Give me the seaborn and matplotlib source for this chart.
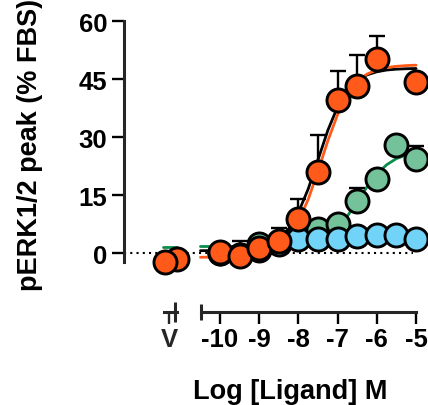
import numpy as np
import matplotlib
matplotlib.use("Agg")
import matplotlib.pyplot as plt
import seaborn as sns

# ---------------- data ----------------
log_conc = [-10, -9.5, -9, -8.5, -8, -7.5, -7, -6.5, -6, -5.5, -5]

orange_mean = [0.3, -0.6, 1.5, 3.3, 8.9, 20.9, 39.6, 43.3, 50.2, np.nan, 44.2]
orange_err = [1.0, 3.9, 1.0, 3.4, 5.1, 9.6, 7.6, 7.9, 6.0, np.nan, 1.0]

green_mean = [0.2, -0.4, 2.5, 3.0, 4.5, 6.3, 7.6, 13.6, 19.2, 28.0, 24.4]
green_err = [1.0, 1.0, 1.0, 1.0, 1.0, 1.5, 1.5, 3.2, 1.5, 1.5, 3.4]

blue_mean = [0.0, -0.5, 1.0, 2.4, 3.7, 3.7, 3.7, 4.4, 4.7, 4.7, 3.7]
blue_err = [0.8, 0.8, 0.8, 0.8, 0.8, 0.8, 0.8, 0.8, 0.8, 0.8, 0.8]

# vehicle (V) points
veh_x = [-11.3]
veh_orange_x = [-11.4]
veh_orange = [-2.3]
veh_orange2_x = [-11.1]
veh_orange2 = [-1.5]

# fitted curves, read at these log concentrations
curve_x = [-10.5, -10, -9.5, -9, -8.75, -8.5, -8.25, -8, -7.75, -7.5, -7.25,
           -7, -6.75, -6.5, -6.25, -6, -5.75, -5.5, -5.25, -5]
orange_fit = [-0.98, -0.93, -0.75, -0.11, 0.66, 2.03, 4.42, 8.3, 14.0, 21.3, 29.1,
              35.9, 41.0, 44.3, 46.3, 47.4, 48.0, 48.3, 48.5, 48.6]
black_fit = [0.72, 0.76, 0.94, 1.57, 2.36, 3.81, 6.38, 10.6, 16.7, 24.25, 31.8,
             37.9, 42.1, 44.7, 46.1, 46.9, 47.35, 47.57, 47.68, 47.74]
green_fit = [1.80, 1.80, 1.81, 1.84, 1.87, 1.94, 2.06, 2.28, 2.68, 3.42, 4.68,
             6.72, 9.67, 13.4, 17.2, 20.5, 22.9, 24.5, 25.4, 25.9]
# fit lines in the vehicle segment of the broken axis
veh_curve_x = [-11.45, -11.1]
veh_orange_fit = [-0.98, -0.98]
veh_black_fit = [0.72, 0.72]
veh_green_fit = [1.8, 1.8]

x_ticks = [-10, -9, -8, -7, -6, -5]
x_tick_labels = ["-10", "-9", "-8", "-7", "-6", "-5"]
y_ticks = [0, 15, 30, 45, 60]

# ---------------- style ----------------
sns.set_style("ticks")
plt.rcParams["font.family"] = ["Liberation Sans", "DejaVu Sans"]
plt.rcParams["font.weight"] = "bold"

ORANGE = "#FF5A1A"
GREEN_FILL = "#74C29A"
GREEN_LINE = "#0A8C4C"
BLUE = "#72D3F8"

FS = 18.5
W, H = 428, 406
fig = plt.figure(figsize=(W / 100, H / 100), dpi=100)
ax = fig.add_axes([124 / W, (H - 263) / H, 296 / W, (263 - 22) / H])
ax.set_xlim(-12.45, -4.9)
ax.set_ylim(-2.2, 60)

# zero reference line
ax.axhline(0, xmin=0, xmax=0.976, color="black", lw=1.5, ls=(0, (1, 2)), zorder=1)

# fitted curves
for xs, ys, col in [(curve_x, green_fit, GREEN_LINE), (veh_curve_x, veh_green_fit, GREEN_LINE),
                    (curve_x, black_fit, "black"), (veh_curve_x, veh_black_fit, "black"),
                    (curve_x, orange_fit, ORANGE), (veh_curve_x, veh_orange_fit, ORANGE)]:
    sns.lineplot(x=xs, y=ys, color=col, lw=2.0, sort=False, estimator=None,
                 ax=ax, zorder=2, clip_on=False)

MS = 275
EW = 2.1
err_kw = dict(fmt="none", ecolor="black", elinewidth=1.7, capsize=5.5, capthick=1.7, clip_on=False)

def series(x, mean, err, fill, z):
    if err is not None:
        lower = [0.0] * len(err)
        ax.errorbar(x, mean, yerr=[lower, err], zorder=z, **err_kw)
    sns.scatterplot(x=x, y=mean, s=MS, color=fill, edgecolor="black", linewidth=EW,
                    ax=ax, zorder=z + 0.5, clip_on=False, legend=False)

series(log_conc, green_mean, green_err, GREEN_FILL, 3)
series(log_conc, blue_mean, blue_err, BLUE, 4)
series(veh_orange2_x, veh_orange2, None, ORANGE, 5)
series(veh_orange_x, veh_orange, None, ORANGE, 5.2)
series(log_conc, orange_mean, orange_err, ORANGE, 6)

# ---------------- axes styling ----------------
for side in ["top", "right"]:
    ax.spines[side].set_visible(False)
ax.spines["left"].set_linewidth(2.2)
ax.spines["bottom"].set_linewidth(2.2)
ax.spines["bottom"].set_position(("outward", 36))
ax.spines["bottom"].set_bounds(-10.48, -5.0)

ax.set_yticks(y_ticks)
ax.set_yticklabels([str(v) for v in y_ticks])
ax.set_xticks(x_ticks)
ax.set_xticklabels(x_tick_labels)
ax.set_xticks([-10.48], minor=True)
ax.tick_params(axis="both", which="major", length=8.5, width=1.7, color="black",
               labelsize=FS, labelcolor="black")
ax.tick_params(axis="y", pad=3.5)
ax.tick_params(axis="x", pad=2)
ax.tick_params(axis="x", which="minor", direction="inout", length=12, width=2.2)
for lab in ax.get_xticklabels() + ax.get_yticklabels():
    lab.set_fontweight("bold")

ax.set_ylabel("pERK1/2 peak (% FBS)", fontsize=19.5, fontweight="bold", color="black")
ax.yaxis.set_label_coords(-0.274, 0.49)
ax.set_xlabel("Log [Ligand] M", fontsize=19.5, fontweight="bold", color="black")
ax.xaxis.set_label_coords(0.5625, -0.48)

# vehicle segment of the broken x axis
ax_v = fig.add_axes(ax.get_position(), label="vehicle")
ax_v.set_xlim(ax.get_xlim())
ax_v.set_ylim(ax.get_ylim())
ax_v.patch.set_visible(False)
for side in ["top", "right", "left"]:
    ax_v.spines[side].set_visible(False)
ax_v.spines["bottom"].set_linewidth(2.2)
ax_v.spines["bottom"].set_position(("outward", 36))
ax_v.spines["bottom"].set_bounds(-11.42, -11.09)
ax_v.set_yticks([])
ax_v.set_xticks(veh_x)
ax_v.set_xticklabels(["V"])
ax_v.set_xticks([-11.16], minor=True)
ax_v.tick_params(axis="x", which="major", length=8.5, width=1.7, labelsize=FS, pad=2)
ax_v.tick_params(axis="x", which="minor", direction="inout", length=14, width=2.2)
for lab in ax_v.get_xticklabels():
    lab.set_fontweight("bold")

fig.savefig("out.png", dpi=100)
